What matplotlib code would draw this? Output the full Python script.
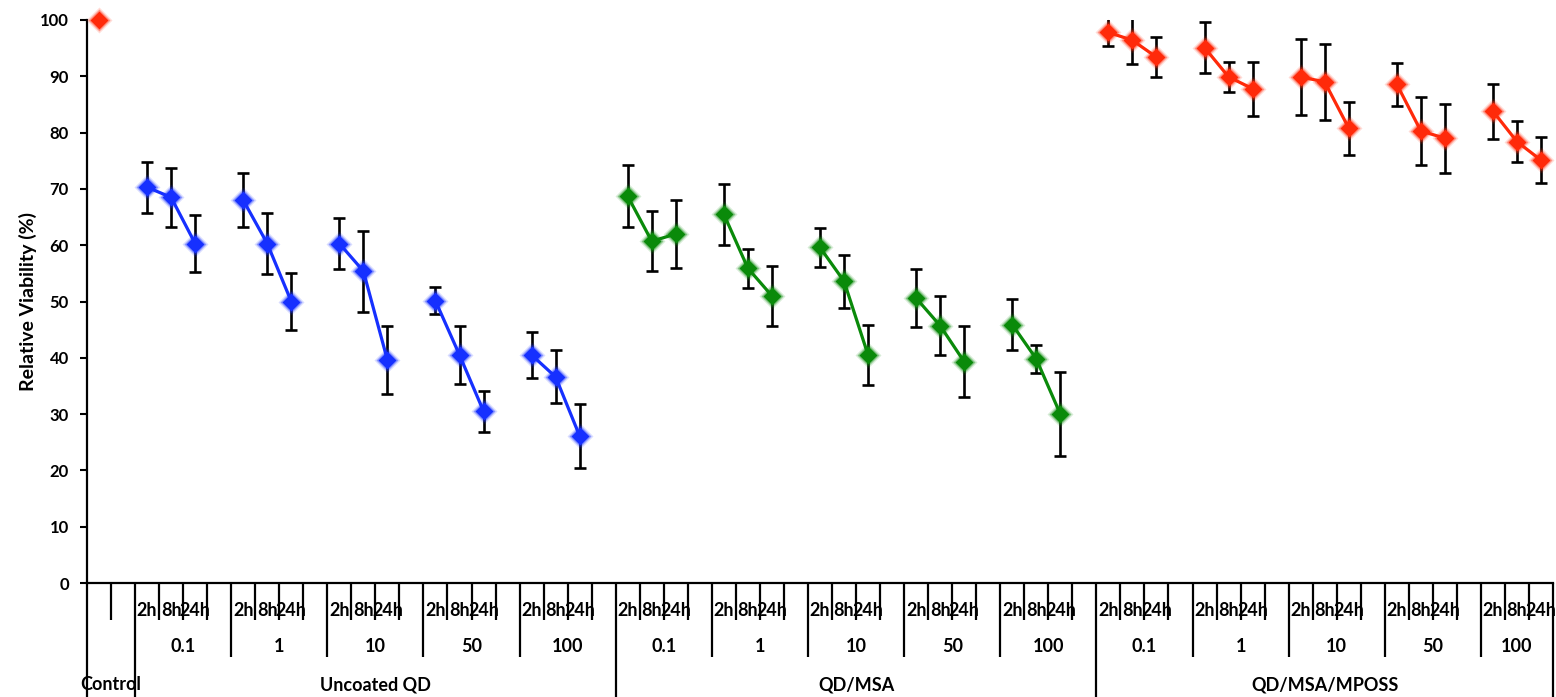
import numpy as np
import matplotlib
matplotlib.use("Agg")
import matplotlib.pyplot as plt
from matplotlib.transforms import blended_transform_factory

# ---- data -------------------------------------------------------------
groups = ["Uncoated QD", "QD/MSA", "QD/MSA/MPOSS"]
concentrations = ["0.1", "1", "10", "50", "100"]
times = ["2h", "8h", "24h"]
control_label = "Control"
control_value = 100.0

uncoated_mean = [[70.3, 68.5, 60.3], [68.0, 60.3, 50.0], [60.3, 55.4, 39.6],
                 [50.1, 40.5, 30.5], [40.5, 36.6, 26.1]]
uncoated_err = [[4.5, 5.3, 5.0], [4.8, 5.5, 5.0], [4.6, 7.2, 6.0],
                [2.4, 5.2, 3.6], [4.0, 4.7, 5.7]]
msa_mean = [[68.7, 60.7, 62.0], [65.5, 55.9, 51.0], [59.6, 53.6, 40.5],
            [50.6, 45.7, 39.3], [45.9, 39.8, 30.0]]
msa_err = [[5.5, 5.3, 6.0], [5.4, 3.5, 5.3], [3.5, 4.7, 5.4],
           [5.2, 5.2, 6.3], [4.6, 2.5, 7.5]]
mposs_mean = [[97.8, 96.4, 93.4], [95.1, 89.9, 87.8], [89.9, 89.0, 80.8],
              [88.6, 80.3, 79.0], [83.8, 78.4, 75.1]]
mposs_err = [[2.5, 4.3, 3.5], [4.6, 2.6, 4.8], [6.7, 6.7, 4.7],
             [3.8, 6.1, 6.1], [4.9, 3.7, 4.1]]

series_means = [uncoated_mean, msa_mean, mposs_mean]
series_errs = [uncoated_err, msa_err, mposs_err]
series_colors = ["#1630ff", "#0a8a0a", "#ff2a0a"]
control_color = "#ff2a0a"

yticks = [0, 10, 20, 30, 40, 50, 60, 70, 80, 90, 100]
ylabel = "Relative Viability (%)"

# ---- style ------------------------------------------------------------
plt.rcParams["font.family"] = ["Lato", "DejaVu Sans"]
plt.rcParams["font.weight"] = "bold"
tick_fs = 12
cat_fs = 13

fig = plt.figure(figsize=(15.56, 6.97), dpi=100)
W, H = 1556, 697
ax = fig.add_axes([87 / W, 114 / H, 1466 / W, 563 / H])

# ---- categorical slot layout -------------------------------------------
pos = 0
control_x = pos
pos += 2                      # control + spacer slot
conc_spans, group_spans, xs = [], [], {}
for g in range(len(groups)):
    g0 = pos
    for c in range(len(concentrations)):
        c0 = pos
        xs[(g, c)] = [pos + t for t in range(len(times))]
        pos += len(times)
        if not (g == len(groups) - 1 and c == len(concentrations) - 1):
            pos += 1          # spacer slot
        conc_spans.append((c0 - 0.5, pos - 0.5, concentrations[c]))
    group_spans.append((g0 - 0.5, pos - 0.5, groups[g]))
n_slots = pos

# ---- data marks -------------------------------------------------------
def glow_markers(x, y, color):
    ax.plot(x, y, linestyle="none", marker="D", ms=13, color=color,
            alpha=0.16, mec="none", zorder=4, clip_on=False)
    ax.plot(x, y, linestyle="none", marker="D", ms=11, color=color,
            alpha=0.4, mec="none", zorder=4, clip_on=False)
    ax.plot(x, y, linestyle="none", marker="D", ms=9, color=color,
            mec="none", zorder=5, clip_on=False)

for g in range(len(groups)):
    for c in range(len(concentrations)):
        x = xs[(g, c)]
        m = series_means[g][c]
        e = series_errs[g][c]
        ax.errorbar(x, m, yerr=e, fmt="none", ecolor="black",
                    elinewidth=1.9, capsize=4.5, capthick=1.9, zorder=2)
        ax.plot(x, m, color=series_colors[g], lw=2.3, zorder=3)
        glow_markers(x, m, series_colors[g])

glow_markers([control_x], [control_value], control_color)

# ---- axes -------------------------------------------------------------
ax.set_xlim(-0.5, n_slots - 0.5)
ax.set_ylim(0, 100)
ax.set_yticks(yticks)
ax.set_yticklabels([str(v) for v in yticks], fontsize=tick_fs,
                   fontweight="bold")
ax.tick_params(axis="y", direction="out", length=5, width=1.5, pad=8)
ax.set_xticks([])
for s in ["top", "right"]:
    ax.spines[s].set_visible(False)
for s in ["left", "bottom"]:
    ax.spines[s].set_linewidth(1.6)
ax.set_ylabel(ylabel, fontsize=14, fontweight="bold")
ax.yaxis.set_label_coords(-59 / 1466, 0.5)
ax.yaxis.label.set_va("center")

# ---- multi-level category axis ------------------------------------------
trans = blended_transform_factory(ax.transData, ax.transAxes)
L1, L2, L3 = 37 / 563, 74 / 563, 114 / 563

level = {}
for k in range(-1, n_slots):
    level[k + 0.5] = L1
for a, b, _ in conc_spans:
    level[a] = L2
    level[b] = L2
level[-0.5] = L3
level[control_x + 1.5] = L3
for a, b, _ in group_spans:
    level[a] = L3
    level[b] = L3

for bx, ln in level.items():
    ax.plot([bx, bx], [0, -ln], transform=trans, color="black", lw=1.6,
            clip_on=False, solid_capstyle="butt", zorder=6)

for g in range(len(groups)):
    for c in range(len(concentrations)):
        for t, x in enumerate(xs[(g, c)]):
            ax.text(x, -27 / 563, times[t], transform=trans, ha="center",
                    va="center", fontsize=cat_fs, fontweight="bold")
for a, b, name in conc_spans:
    ax.text((a + b) / 2, -64 / 563, name, transform=trans, ha="center",
            va="center", fontsize=cat_fs, fontweight="bold")
ax.text(control_x + 0.5, -102 / 563, control_label, transform=trans,
        ha="center", va="center", fontsize=cat_fs, fontweight="bold")
for a, b, name in group_spans:
    ax.text((a + b) / 2, -102 / 563, name, transform=trans, ha="center",
            va="center", fontsize=cat_fs, fontweight="bold")

fig.savefig("out.png", dpi=100)
